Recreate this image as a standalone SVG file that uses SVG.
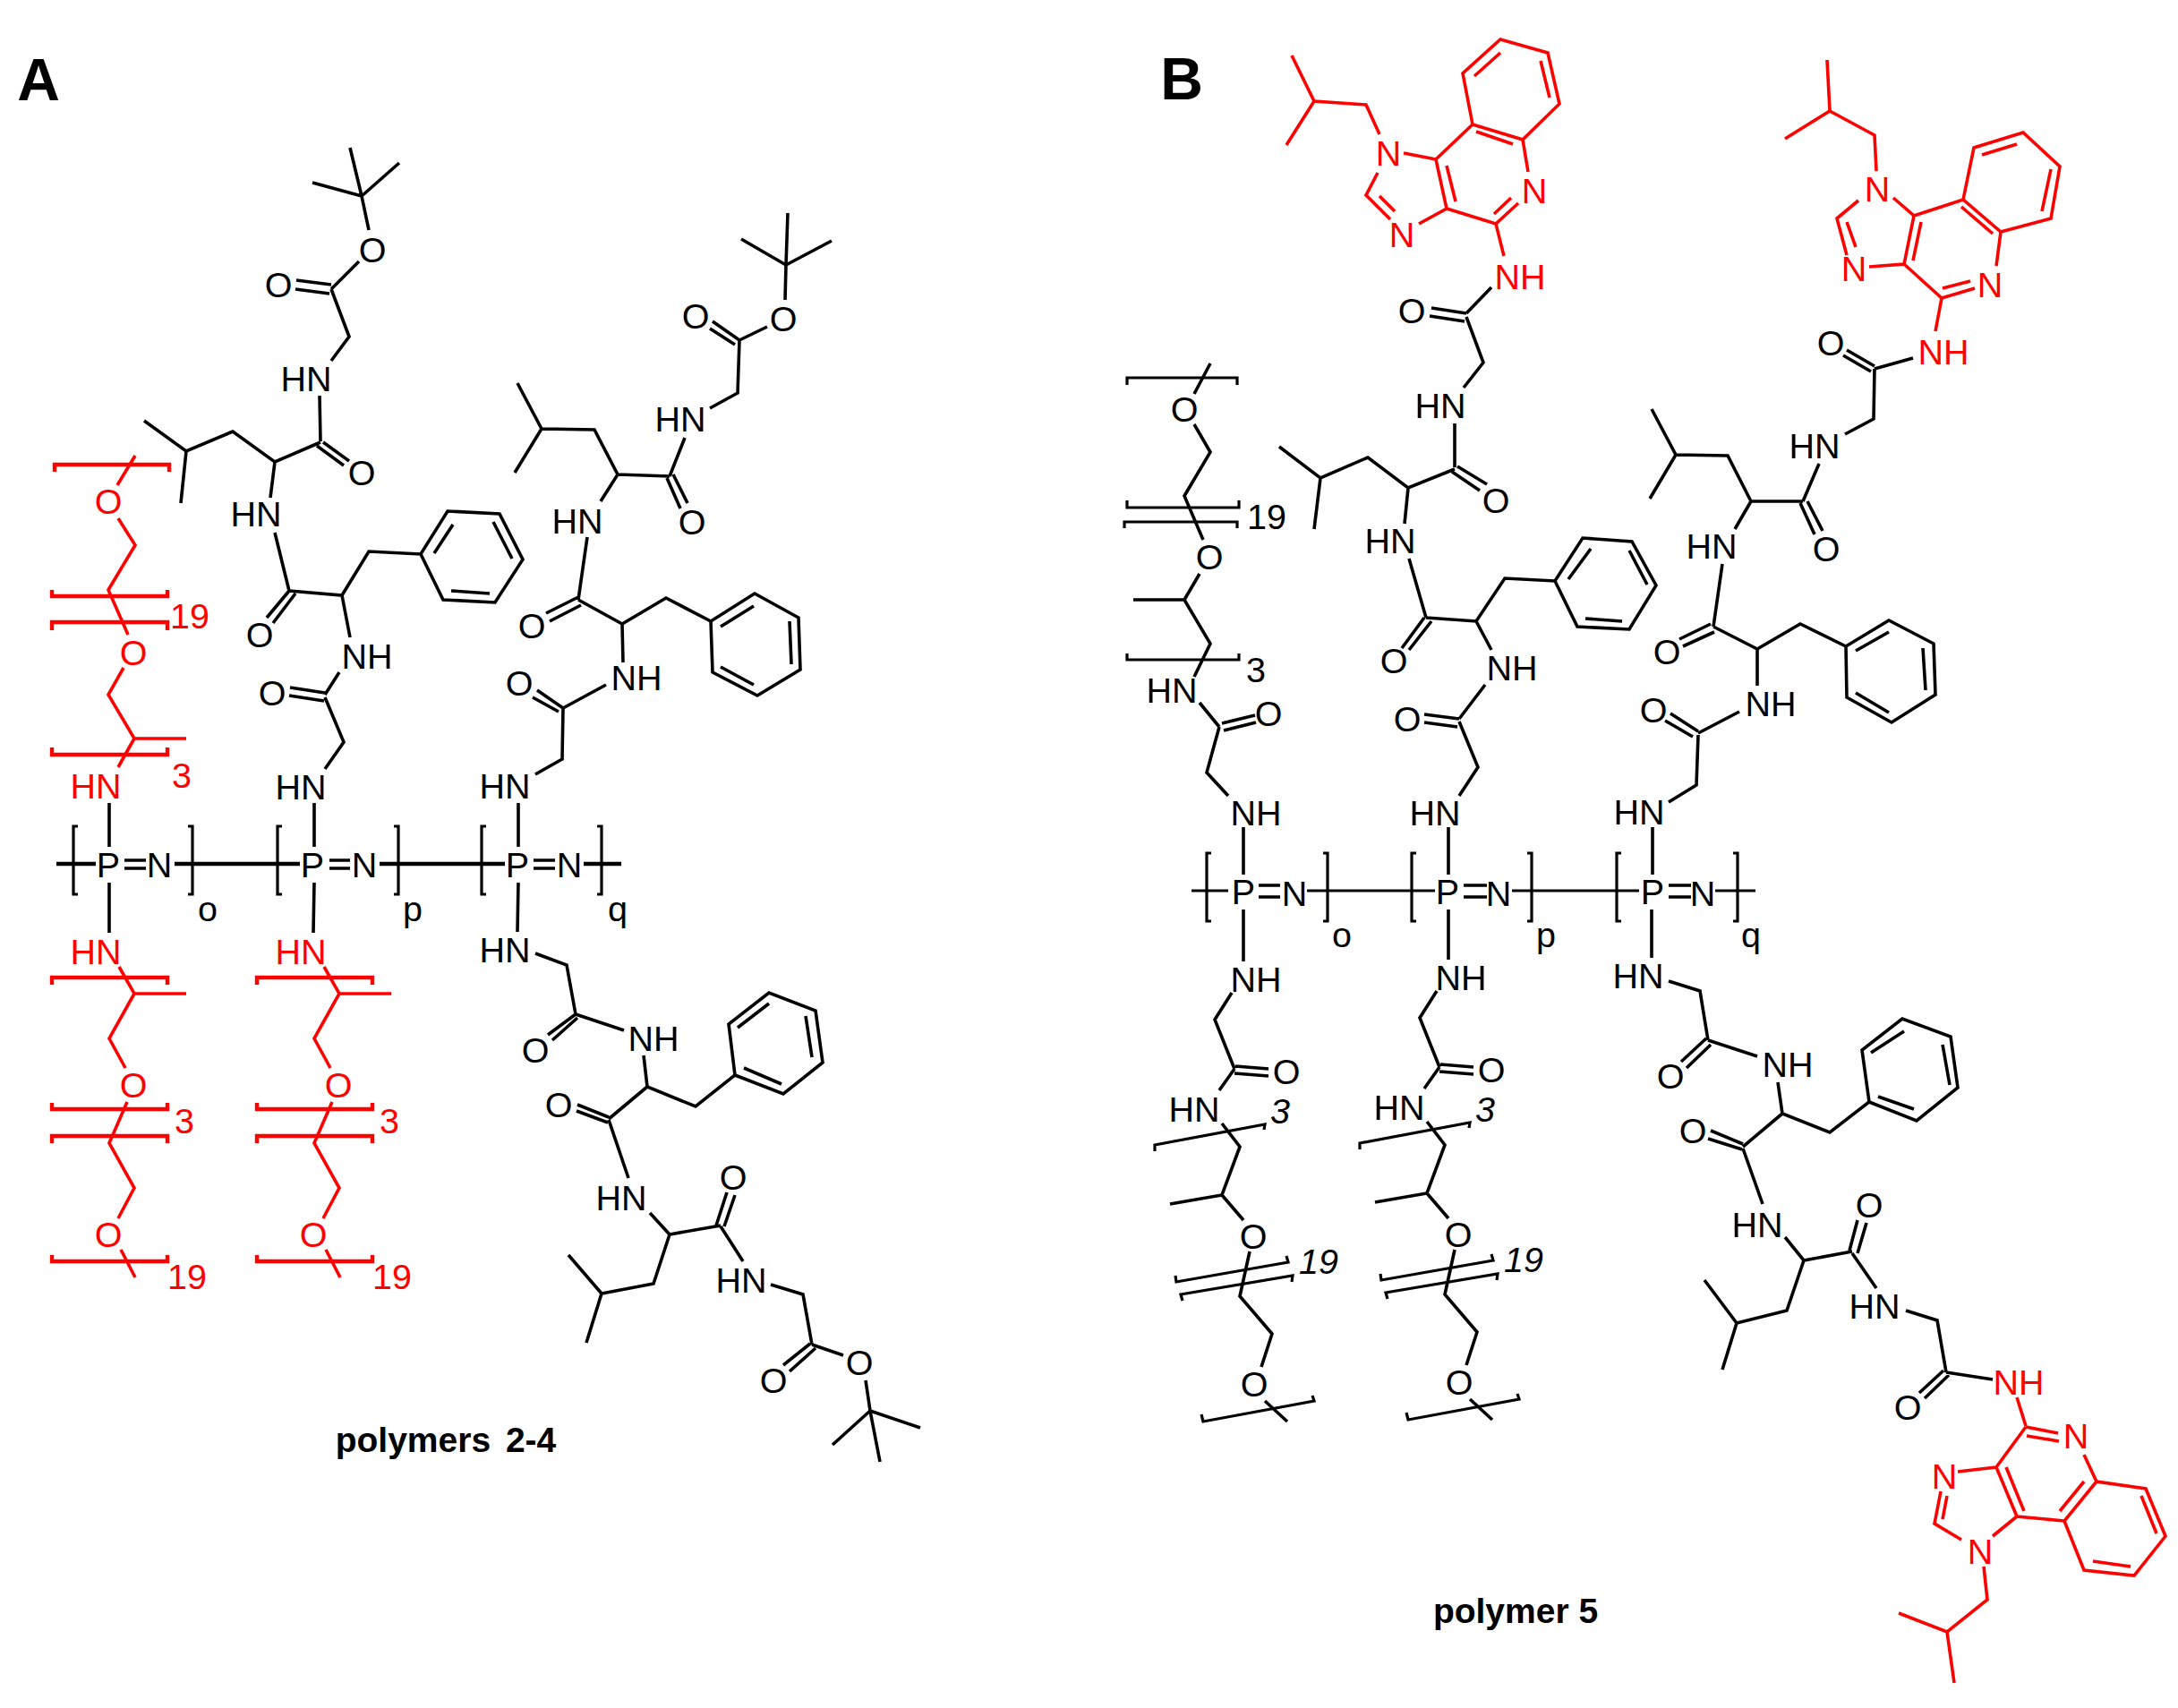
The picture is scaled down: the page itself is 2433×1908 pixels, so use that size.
<svg xmlns="http://www.w3.org/2000/svg" width="2433" height="1908" viewBox="0 0 2433 1908">
<style>
path{fill:none;stroke-linejoin:miter;stroke-linecap:butt}
.k{stroke:#000;stroke-width:3.6}
.r{stroke:#f00;stroke-width:3.6}
.kb{stroke:#000;stroke-width:3.2}
.rb{stroke:#f00;stroke-width:4.4}
.kt{stroke:#000;stroke-width:4.4}
.kr{stroke:#000;stroke-width:3}
text{font-family:"Liberation Sans",Arial,sans-serif;font-size:39.5px;text-anchor:middle;fill:#000}
.t{fill:#f00}
.i{font-style:italic}
.h{font-weight:bold;font-size:66px}
.c{font-weight:bold;font-size:39px}
</style>
<rect width="2433" height="1908" fill="#fff"/>
<g id="panel-a">
<text class="h" x="43" y="112">A</text>
<text class="c" x="498" y="1622" word-spacing="6">polymers 2-4</text>
<g id="a-connectors">
<path class="k" d="M391 165L404 219M349 204L404 219M446 182L404 219M404 219L412 257M401 292L370 323M331 313L370 318M330 323L368 328M370 323L390 376L370 403M357 442L358 493M361 494L390 515M354 498L384 520M358 494L307 516L260 482L208 504L161 470M208 504L202 562M307 516L302 556M307 595L323 660M323 660L298 690M330 663L305 696M323 660L382 665L412 616L470 619L500 571L558 574L584 625L553 673L495 670L470 619M485 618L506 586M551 583L572 624M547 663L504 660M382 665L391 712M379 751L363 776M324 768L363 774M323 777L362 783M363 779L384 829L363 859M351 897L351 946M351 986L350 1042"/>
<path class="k" d="M122 897L122 946M122 986L122 1042M579 897L579 946M579 986L578 1041"/>
<path class="k" d="M598 865L628 848L629 791M629 791L600 771M624 795L595 779M629 791L677 765M696 740L695 697L646 670M646 667L610 685M649 676L614 694M646 670L656 600M671 560L690 530L748 532M745 534L760 568M752 530L768 562M748 532L765 489M793 456L824 439L826 380M826 380L796 359M821 385L793 367M826 380L857 365M877 335L878 296M880 238L878 296M828 267L878 296M929 269L878 296M690 530L664 480L605 479L578 428M605 479L575 528M695 697L744 668L794 694L843 663L892 690L894 748L846 777L796 751L794 694M805 700L842 677M882 694L884 742M842 765L805 745"/>
<path class="k" d="M598 1065L633 1078L643 1133M643 1133L612 1156M645 1137L617 1162M643 1133L697 1151M719 1179L723 1214L777 1236L821 1201L814 1144L859 1109L911 1129L919 1187L875 1222L821 1201M824 1148L859 1121M900 1135L907 1181M873 1211L831 1193M723 1214L680 1250M680 1248L645 1234M679 1254L644 1241M680 1251L702 1316M726 1355L748 1379L805 1369M800 1369L812 1332M809 1370L821 1335M805 1370L830 1409M861 1435L897 1446L907 1502M905 1501L875 1525M911 1506L882 1532M907 1502L942 1514M967 1542L972 1576M1028 1595L972 1576M930 1614L972 1576M983 1633L972 1576M748 1379L730 1434L672 1445L635 1402M672 1445L655 1500"/>
<path class="kt" d="M63 965L107 965M195 965L335 965M424 965L564 965M652 965L694 965"/>
<path class="k" d="M139 961L163 961M139 970L163 970M368 961L391 961M368 970L391 970M596 961L620 961M596 970L620 970"/>
<path class="kb" d="M87 923L82 923L82 999L87 999M210 923L215 923L215 999L210 999M315 923L310 923L310 999L315 999M440 923L445 923L445 999L440 999M543 923L538 923L538 999L543 999M667 923L672 923L672 999L667 999"/>
<path class="r" d="M151 509L131 542M132 579L151 609L121 659L143 709M138 746L121 776L150 825L208 825M150 825L132 857"/>
<path class="rb" d="M61 527L61 519L189 519L189 527M58 659L58 666L187 666L187 659M58 704L58 695L187 695L187 704M58 835L58 843L187 843L187 835"/>
<path class="r" d="M133 1080L150 1110L208 1110M150 1110L122 1160L140 1193M142 1231L122 1277L150 1327L132 1361M135 1396L151 1427"/>
<path class="rb" d="M58 1100L58 1092L187 1092L187 1100M58 1232L58 1239L187 1239L187 1232M58 1277L58 1269L187 1269L187 1277M58 1402L58 1409L187 1409L187 1402"/>
<path class="r" d="M362 1080L379 1110L437 1110M379 1110L351 1160L369 1193M371 1231L351 1277L379 1327L361 1361M364 1396L380 1427"/>
<path class="rb" d="M287 1100L287 1092L416 1092L416 1100M287 1232L287 1239L416 1239L416 1232M287 1277L287 1269L416 1269L416 1277M287 1402L287 1409L416 1409L416 1402"/>
</g>
<g id="a-labels" transform="translate(0 1)">
<text x="416" y="292">O</text><text x="311" y="331">O</text><text x="342" y="436">HN</text><text x="404" y="541">O</text><text x="286" y="587">HN</text><text x="290" y="722">O</text><text x="410" y="746">NH</text><text x="304" y="787">O</text><text x="336" y="892">HN</text>
<text x="875" y="369">O</text><text x="777" y="366">O</text><text x="760" y="481">HN</text><text x="773" y="596">O</text><text x="645" y="595">HN</text><text x="594" y="712">O</text><text x="711" y="770">NH</text><text x="580" y="776">O</text><text x="564" y="891">HN</text>
<text class="t" x="107" y="891">HN</text><text class="t" x="107" y="1076">HN</text><text class="t" x="336" y="1076">HN</text>
<text x="564" y="1074">HN</text><text x="598" y="1186">O</text><text x="730" y="1173">NH</text><text x="624" y="1247">O</text><text x="694" y="1351">HN</text><text x="819" y="1328">O</text><text x="828" y="1443">HN</text><text x="864" y="1555">O</text><text x="960" y="1535">O</text>
<text x="121" y="979">P</text><text x="178" y="979">N</text><text x="349" y="979">P</text><text x="407" y="979">N</text><text x="578" y="979">P</text><text x="636" y="979">N</text>
<text x="232" y="1028">o</text><text x="461" y="1028">p</text><text x="690" y="1028">q</text>
<text class="t" x="121" y="573">O</text><text class="t" x="149" y="742">O</text><text class="t" x="212" y="701">19</text><text class="t" x="203" y="879">3</text>
<text class="t" x="149" y="1225">O</text><text class="t" x="121" y="1392">O</text><text class="t" x="206" y="1265">3</text><text class="t" x="209" y="1439">19</text>
<text class="t" x="378" y="1225">O</text><text class="t" x="350" y="1392">O</text><text class="t" x="435" y="1265">3</text><text class="t" x="438" y="1439">19</text>
</g>
</g>
<g id="panel-b">
<text class="h" x="1320" y="111">B</text>
<text class="c" x="1693" y="1813">polymer 5</text>
<g id="b-connectors">
<path class="r" d="M1443 62L1468 113L1526 117L1541 150M1437 162L1468 113M1568 171L1604 178L1616 233L1585 250M1539 193L1526 218L1553 245M1541 219L1558 236M1616 185L1626 225M1616 233L1671 250L1696 227M1669 239L1688 221M1707 192L1701 156L1645 139L1604 178M1649 147L1690 161M1645 139L1634 82L1676 44L1729 59L1742 116L1701 156M1647 85L1676 59M1721 68L1731 109M1671 250L1680 286"/>
<path class="k" d="M1666 321L1638 350M1599 344L1638 350M1597 353L1636 359M1638 354L1657 405L1635 433M1625 473L1625 522M1628 521L1661 541M1622 527L1653 548M1625 524L1573 545L1528 511L1475 534L1429 499M1475 534L1468 591M1573 545L1569 585M1574 624L1593 690M1591 690L1566 724M1599 694L1574 726M1593 690L1649 694L1681 646L1737 649L1768 601L1823 605L1850 654L1820 703L1762 700L1737 649M1752 647L1777 613M1820 615L1840 653M1812 694L1771 691M1649 694L1666 726M1659 765L1630 803M1591 798L1630 803M1591 807L1628 812M1630 806L1651 857L1630 889M1618 924L1618 977"/>
<path class="k" d="M1389 924L1389 977M1389 1016L1389 1074M1618 1016L1618 1072M1846 924L1846 977M1845 1016L1845 1070"/>
<path class="kr" d="M1331 995L1372 995M1460 995L1603 995M1689 995L1831 995M1916 995L1961 995"/>
<path class="k" d="M1406 989L1430 989M1406 1002L1430 1002M1635 989L1661 989M1635 1002L1661 1002M1864 989L1889 989M1864 1002L1889 1002"/>
<path class="kb" d="M1353 953L1348 953L1348 1029L1353 1029M1478 953L1483 953L1483 1029L1478 1029M1582 953L1577 953L1577 1029L1582 1029M1706 953L1711 953L1711 1029L1706 1029M1811 953L1806 953L1806 1029L1811 1029M1936 953L1941 953L1941 1029L1936 1029"/>
<path class="k" d="M1372 889L1348 863L1362 812M1365 808L1402 799M1367 816L1403 807M1362 812L1340 785M1334 756L1352 719L1323 670L1266 670M1323 670L1340 641M1344 603L1323 554L1352 505L1334 474M1334 440L1352 406"/>
<path class="kb" d="M1259 430L1259 422L1382 422L1382 430M1259 559L1259 567L1384 567L1384 559M1256 590L1256 583L1382 583L1382 590M1259 730L1259 737L1384 737L1384 730"/>
<path class="k" d="M1376 1109L1357 1139L1379 1194M1380 1191L1417 1194M1379 1199L1417 1202M1379 1194L1362 1218M1365 1255L1385 1281L1365 1335L1307 1345M1365 1335L1389 1363M1396 1398L1385 1448L1421 1490L1409 1527M1413 1565L1438 1588"/>
<path class="kb" d="M1290 1286L1290 1279L1413 1256L1412 1262M1313 1425L1314 1432L1439 1410L1437 1403M1321 1453L1319 1446L1444 1425L1443 1432M1342 1580L1344 1588L1468 1565L1466 1559"/>
<path class="k" d="M1605 1107L1586 1137L1608 1192M1609 1189L1646 1192M1608 1197L1646 1200M1608 1192L1591 1216M1594 1253L1614 1279L1594 1333L1536 1343M1594 1333L1618 1361M1625 1396L1614 1446L1650 1488L1638 1525M1642 1563L1667 1586"/>
<path class="kb" d="M1519 1284L1519 1277L1642 1254L1641 1260M1542 1423L1543 1430L1668 1408L1666 1401M1550 1451L1548 1444L1673 1423L1672 1430M1571 1578L1573 1586L1697 1563L1695 1557"/>
<path class="k" d="M1864 1096L1899 1107L1908 1162M1906 1160L1878 1186M1911 1167L1884 1193M1908 1162L1963 1180M1986 1209L1991 1244L2044 1265L2088 1231L2080 1173L2125 1138L2179 1158L2187 1215L2141 1252L2088 1231M2090 1176L2127 1152M2170 1167L2178 1212M2138 1239L2098 1225M1991 1244L1947 1281M1947 1278L1911 1263M1946 1284L1908 1272M1947 1283L1969 1345M1994 1382L2015 1408L2069 1398M2066 1397L2075 1363M2075 1400L2085 1366M2069 1400L2096 1439M2129 1464L2164 1475L2174 1533M2171 1531L2144 1556M2177 1536L2150 1562M2174 1533L2226 1541M2015 1408L1996 1464L1940 1478L1904 1430M1940 1478L1924 1530"/>
<path class="r" d="M2253 1561L2263 1593M2263 1594L2299 1601M2264 1604L2300 1610M2328 1625L2342 1655L2397 1663L2419 1716L2384 1760L2328 1754L2306 1699L2342 1655M2392 1671L2409 1713M2380 1750L2338 1744M2301 1688L2328 1655M2263 1594L2230 1639L2253 1694L2306 1699M2241 1639L2261 1688M2230 1639L2187 1644M2168 1666L2161 1702L2191 1720M2175 1671L2170 1697M2226 1716L2253 1694M2216 1750L2220 1787L2175 1823L2121 1802M2175 1823L2183 1880"/>
<path class="r" d="M2041 67L2044 124L1994 155M2044 124L2094 151L2096 191M2115 221L2138 241L2127 295L2088 298M2076 224L2052 244L2063 285M2063 248L2073 276M2137 291L2146 248M2138 241L2193 223L2235 259M2127 295L2169 333L2206 322M2170 322L2201 314M2230 297L2235 259L2291 244L2301 186L2260 148L2205 165L2193 223M2191 231L2226 261M2214 173L2253 161M2291 189L2281 236M2169 333L2162 370"/>
<path class="k" d="M2137 400L2094 412M2094 409L2063 391M2090 415L2059 397M2094 412L2093 468L2061 485M2032 518L2014 560M2011 562L2027 597M2019 560L2036 593M2014 560L1956 560L1930 509L1872 508L1845 457M1872 508L1843 557M1956 560L1938 591M1924 630L1914 700M1911 697L1876 714M1915 706L1880 722M1914 700L1963 725L2011 697L2062 722L2110 693L2160 719L2162 776L2113 807L2063 779L2062 722M2073 727L2110 706M2148 724L2151 771M2110 796L2073 774M1963 725L1963 766M1943 795L1897 819M1897 817L1866 797M1891 823L1860 805M1897 821L1895 877L1864 896"/>
</g>
<g id="b-labels" transform="translate(0 1)">
<text class="t" x="1551" y="184">N</text><text class="t" x="1566" y="275">N</text><text class="t" x="1714" y="226">N</text><text class="t" x="1698" y="322">NH</text>
<text x="1577" y="360">O</text><text x="1609" y="466">HN</text><text x="1671" y="572">O</text><text x="1553" y="617">HN</text><text x="1557" y="751">O</text><text x="1689" y="759">NH</text><text x="1572" y="816">O</text><text x="1603" y="921">HN</text>
<text class="t" x="2097" y="224">N</text><text class="t" x="2071" y="313">N</text><text class="t" x="2223" y="331">N</text><text class="t" x="2171" y="406">NH</text>
<text x="2045" y="396">O</text><text x="2027" y="511">HN</text><text x="2040" y="626">O</text><text x="1912" y="623">HN</text><text x="1862" y="741">O</text><text x="1978" y="799">NH</text><text x="1847" y="806">O</text><text x="1831" y="920">HN</text>
<text x="1323" y="470">O</text><text x="1415" y="590">19</text><text x="1351" y="635">O</text><text x="1403" y="761">3</text><text x="1309" y="784">HN</text><text x="1417" y="810">O</text><text x="1403" y="921">NH</text>
<text x="1389" y="1009">P</text><text x="1446" y="1011">N</text><text x="1617" y="1009">P</text><text x="1674" y="1011">N</text><text x="1846" y="1009">P</text><text x="1902" y="1011">N</text>
<text x="1499" y="1057">o</text><text x="1727" y="1057">p</text><text x="1956" y="1057">q</text>
<text x="1403" y="1107">NH</text><text x="1437" y="1210">O</text><text x="1334" y="1252">HN</text><text class="i" x="1430" y="1254">3</text><text x="1400" y="1394">O</text><text class="i" x="1473" y="1422">19</text><text x="1401" y="1559">O</text>
<text x="1632" y="1105">NH</text><text x="1666" y="1208">O</text><text x="1563" y="1250">HN</text><text class="i" x="1659" y="1252">3</text><text x="1629" y="1392">O</text><text class="i" x="1702" y="1420">19</text><text x="1630" y="1557">O</text>
<text x="1830" y="1103">HN</text><text x="1866" y="1215">O</text><text x="1997" y="1202">NH</text><text x="1891" y="1276">O</text><text x="1963" y="1381">HN</text><text x="2088" y="1359">O</text><text x="2094" y="1472">HN</text><text x="2131" y="1585">O</text>
<text class="t" x="2255" y="1557">NH</text><text class="t" x="2319" y="1617">N</text><text class="t" x="2172" y="1662">N</text><text class="t" x="2212" y="1746">N</text>
</g>
</g>
</svg>
